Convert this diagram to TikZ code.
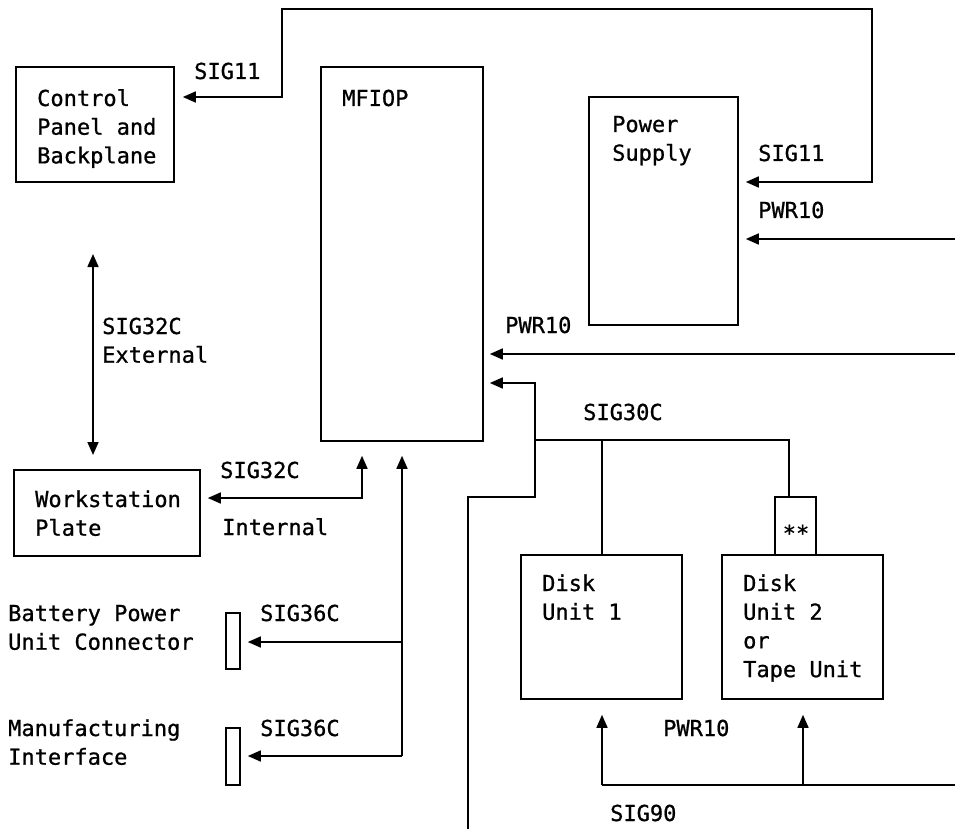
\documentclass[tikz,border=0pt]{standalone}
\usepackage{fontspec}
\newfontfamily\dmono[FakeBold=0.8]{DejaVu Sans Mono}
\usetikzlibrary{arrows.meta}
\tikzset{
  box/.style={draw, line width=1.6pt, inner sep=0pt},
  lbl/.style={anchor=base west, inner sep=0pt, align=left, font=\dmono\fontsize{22}{28.7}\selectfont},
  wire/.style={line width=1.6pt},
  arr/.style={wire, -{Triangle[length=13pt,width=11pt]}},
  darr/.style={wire, {Triangle[length=13pt,width=11pt]}-{Triangle[length=13pt,width=11pt]}}
}
\begin{document}
\begin{tikzpicture}[x=1pt,y=-1pt]
\useasboundingbox (0,0) rectangle (955,829);
% boxes
\node[box, minimum width=158pt, minimum height=115pt] (cp) at (95,124.5) {};
\node[box, minimum width=162pt, minimum height=374pt] (mfiop) at (402,254) {};
\node[box, minimum width=149pt, minimum height=228pt] (ps) at (663.5,211) {};
\node[box, minimum width=186pt, minimum height=86pt] (ws) at (107,513) {};
\node[box, minimum width=14pt, minimum height=56pt] (bat) at (233,641) {};
\node[box, minimum width=14pt, minimum height=57pt] (mfg) at (233,756.5) {};
\node[box, minimum width=161pt, minimum height=144pt] (d1) at (601.5,627) {};
\node[box, minimum width=161pt, minimum height=144pt] (d2) at (802.5,627) {};
\node[box, minimum width=41pt, minimum height=58pt] (star) at (795.5,526) {};
% box texts (base = baseline of last line)
\node[lbl] (tcp) at (37,163.4) {Control\\Panel and\\Backplane};
\node[lbl] (tmf) at (342,106) {MFIOP};
\node[lbl] (tps) at (612,160.7) {Power\\Supply};
\node[lbl] (tws) at (35,535.7) {Workstation\\Plate};
\node[lbl] (tbat) at (8,649.7) {Battery Power\\Unit Connector};
\node[lbl] (tmfg) at (8,764.7) {Manufacturing\\Interface};
\node[lbl] (td1) at (542,619.7) {Disk\\Unit 1};
\node[lbl] (td2) at (743,677.1) {Disk\\Unit 2\\or\\Tape Unit};
\node[lbl, anchor=base] (tstar) at (796,541) {**};
% connector labels
\node[lbl] (l1) at (194,79) {SIG11};
\node[lbl] (l2) at (758,161) {SIG11};
\node[lbl] (l3) at (758,218) {PWR10};
\node[lbl] (l4) at (505,333) {PWR10};
\node[lbl] (l5) at (102,362.7) {SIG32C\\External};
\node[lbl] (l6) at (583,420) {SIG30C};
\node[lbl] (l7) at (220,478) {SIG32C};
\node[lbl] (l8) at (222,535) {Internal};
\node[lbl] (l9) at (260,621) {SIG36C};
\node[lbl] (l10) at (260,736) {SIG36C};
\node[lbl] (l11) at (663,736) {PWR10};
\node[lbl] (l12) at (610,821) {SIG90};
% coordinates
\coordinate (a1) at (872,182);
\coordinate (a2) at (872,9);
\coordinate (a3) at (282,9);
\coordinate (a4) at (282,97);
\coordinate (p1) at (955,239);
\coordinate (p2) at (955,354);
\coordinate (s1) at (468,829);
\coordinate (s2) at (468,497);
\coordinate (s3) at (535,497);
\coordinate (s4) at (535,383);
\coordinate (s5) at (535,440);
\coordinate (s6) at (602,440);
\coordinate (s7) at (789,440);
\coordinate (q1) at (955,785);
\coordinate (q2) at (602,785);
\coordinate (q3) at (803,785);
\coordinate (w1) at (362,498);
\coordinate (e1) at (93,254);
\coordinate (e2) at (93,455);
\coordinate (b1) at (402,756);
\coordinate (b2) at (402,642);
% connectors
\draw[darr, shorten <=7pt, shorten >=8pt] (a1 -| ps.east) -- (a1) -- (a2) -- (a3) -- (a4) -- (a4 -| cp.east);
\draw[arr, shorten >=7pt] (p1) -- (p1 -| ps.east);
\draw[arr, shorten >=6pt] (p2) -- (p2 -| mfiop.east);
\draw[arr, shorten >=6pt] (s1) -- (s2) -- (s3) -- (s4) -- (s4 -| mfiop.east);
\draw[wire] (s5) -- (s7) -- (s7 |- star.north);
\draw[wire] (s6) -- (s6 |- d1.north);
\draw[wire] (q1) -- (q2);
\draw[arr, shorten >=15pt] (q2) -- (q2 |- d1.south);
\draw[arr, shorten >=15pt] (q3) -- (q3 |- d2.south);
\draw[darr, shorten <=7pt, shorten >=14pt] (w1 -| ws.east) -- (w1) -- (w1 |- mfiop.south);
\draw[darr] (e1) -- (e2);
\draw[arr, shorten >=14pt] (b1) -- (b1 |- mfiop.south);
\draw[arr, shorten >=7pt] (b2) -- (b2 -| bat.east);
\draw[arr, shorten >=7pt] (b1) -- (b1 -| mfg.east);
\end{tikzpicture}
\end{document}
